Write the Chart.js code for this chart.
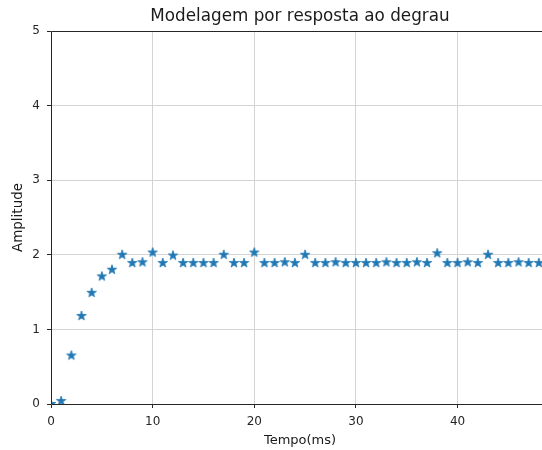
<!DOCTYPE html>
<html>
<head>
<meta charset="utf-8">
<script src="https://cdn.jsdelivr.net/npm/chart.js@4/dist/chart.umd.min.js"></script>
<style>
  html, body { margin: 0; padding: 0; background: #fff; overflow: hidden; }
  #wrap { width: 542px; height: 450px; overflow: hidden; position: relative; }
  #c { position: absolute; left: 0; top: 0; }
</style>
</head>
<body>
<div id="wrap"><canvas id="c" width="600" height="450"></canvas></div>
<script>
// Step response samples (time in ms, amplitude)
const tempo = [0,1,2,3,4,5,6,7,8,9,10,11,12,13,14,15,16,17,18,19,20,21,22,23,24,
               25,26,27,28,29,30,31,32,33,34,35,36,37,38,39,40,41,42,43,44,45,46,47,48];
const amplitude = [0.00,0.04,0.65,1.18,1.49,1.71,1.80,2.00,1.89,1.90,2.03,1.89,1.99,1.89,1.89,1.89,1.89,2.00,1.89,1.89,
                   2.03,1.89,1.89,1.90,1.89,2.00,1.89,1.89,1.90,1.89,1.89,1.89,1.89,1.90,1.89,1.89,1.90,1.89,2.02,1.89,
                   1.89,1.90,1.89,2.00,1.89,1.89,1.90,1.89,1.89];
const xTicks = [0, 10, 20, 30, 40];
const yTicks = [0, 1, 2, 3, 4, 5];
const chartTitle = 'Modelagem por resposta ao degrau';
const xTitle = 'Tempo(ms)';
const yTitle = 'Amplitude';

const BLUE = '#1f77b4';
const FONT = "'DejaVu Sans', sans-serif";

// filled five-point star marker
function makeStar(r, color) {
  const size = Math.ceil(r * 2 + 2);
  const cv = document.createElement('canvas');
  cv.width = size; cv.height = size;
  const g = cv.getContext('2d');
  const cx = size / 2, cy = size / 2, inner = r * 0.381966;
  g.beginPath();
  for (let i = 0; i < 10; i++) {
    const rad = i % 2 === 0 ? r : inner;
    const a = -Math.PI / 2 + i * Math.PI / 5;
    const px = cx + rad * Math.cos(a), py = cy + rad * Math.sin(a);
    if (i === 0) g.moveTo(px, py); else g.lineTo(px, py);
  }
  g.closePath();
  g.fillStyle = color;
  g.fill();
  g.lineWidth = 0.8;
  g.strokeStyle = color;
  g.stroke();
  return cv;
}
const star = makeStar(5, BLUE);

// axes frame (left, bottom, top spines) drawn over the data
const spines = {
  id: 'spines',
  afterDatasetsDraw(chart) {
    const { ctx, chartArea: a } = chart;
    ctx.save();
    ctx.strokeStyle = '#262626';
    ctx.lineWidth = 1;
    ctx.beginPath();
    const l = Math.round(a.left) + 0.5, t = Math.round(a.top) + 0.5, b = Math.round(a.bottom) + 0.5;
    ctx.moveTo(a.right, t); ctx.lineTo(l, t); ctx.lineTo(l, b); ctx.lineTo(a.right, b);
    ctx.stroke();
    ctx.restore();
  }
};

// title centred over the plot area
const axesTitle = {
  id: 'axesTitle',
  afterDraw(chart) {
    const { ctx, chartArea: a } = chart;
    ctx.save();
    ctx.font = `16.8px ${FONT}`;
    ctx.fillStyle = '#1a1a1a';
    ctx.textAlign = 'center';
    ctx.textBaseline = 'middle';
    ctx.fillText(chartTitle, (a.left + a.right) / 2, 16.5);
    ctx.restore();
  }
};

new Chart(document.getElementById('c'), {
  type: 'scatter',
  data: {
    datasets: [{
      data: tempo.map((t, i) => ({ x: t, y: amplitude[i] })),
      pointStyle: star,
      pointRadius: 5,
      pointHoverRadius: 5,
      backgroundColor: BLUE,
      borderColor: BLUE,
      showLine: false,
      clip: 0
    }]
  },
  options: {
    responsive: false,
    animation: false,
    events: [],
    layout: { padding: { top: 31, right: 51, bottom: 0, left: 0 } },
    plugins: {
      legend: { display: false },
      tooltip: { enabled: false },
      title: { display: false }
    },
    scales: {
      x: {
        type: 'linear',
        min: 0,
        max: 49,
        afterBuildTicks: s => { s.ticks = xTicks.map(v => ({ value: v })); },
        afterFit: s => { s.height = 46; s.paddingLeft = 0; s.paddingRight = 0; },
        grid: { color: '#d3d3d3', lineWidth: 1, tickColor: '#262626', tickLength: 4 },
        border: { display: false },
        ticks: { color: '#262626', font: { family: FONT, size: 12 }, padding: 7, maxRotation: 0 },
        title: {
          display: true, text: xTitle, color: '#1a1a1a',
          font: { family: FONT, size: 13 }, padding: { top: 0, bottom: 2 }
        }
      },
      y: {
        type: 'linear',
        min: 0,
        max: 5,
        afterBuildTicks: s => { s.ticks = yTicks.map(v => ({ value: v })); },
        afterFit: s => { s.width = 51; s.paddingTop = 0; s.paddingBottom = 0; },
        grid: { color: '#d3d3d3', lineWidth: 1, tickColor: '#262626', tickLength: 4 },
        border: { display: false },
        ticks: { color: '#262626', font: { family: FONT, size: 12 }, padding: 7 },
        title: {
          display: true, text: yTitle, color: '#1a1a1a',
          font: { family: FONT, size: 13.5 }, padding: { top: 10, bottom: 0 }
        }
      }
    }
  },
  plugins: [spines, axesTitle]
});
</script>
</body>
</html>
